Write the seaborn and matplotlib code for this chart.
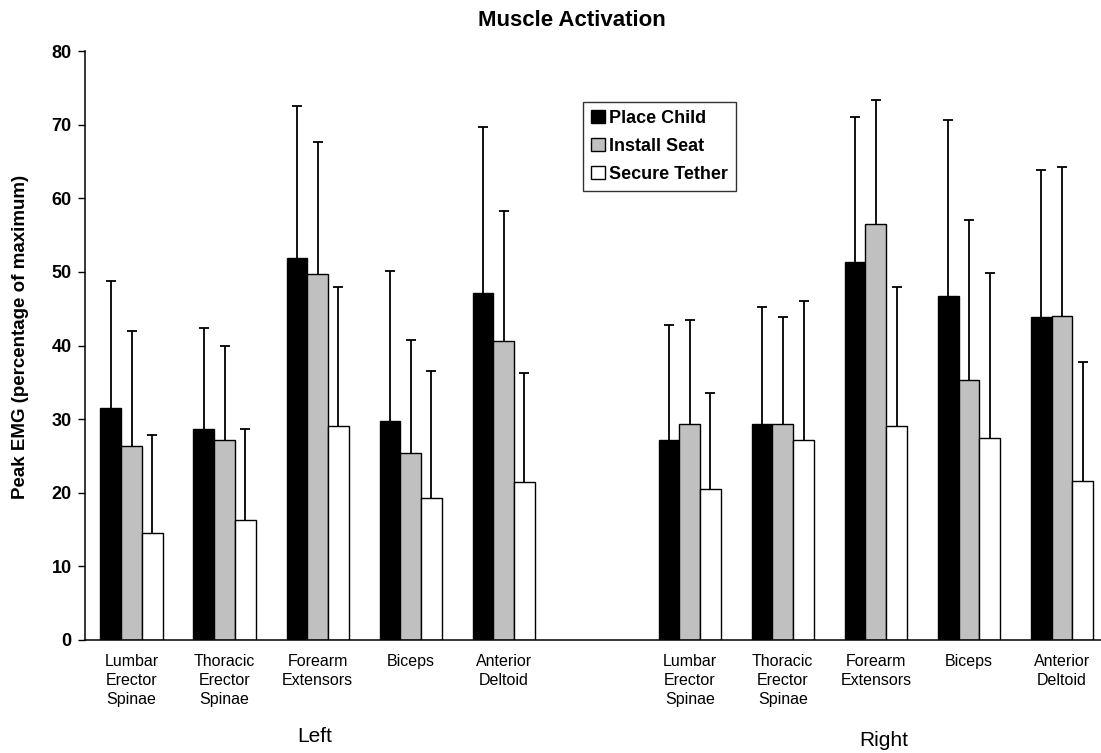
import numpy as np
import pandas as pd
import matplotlib
matplotlib.use("Agg")
import matplotlib.pyplot as plt
import seaborn as sns

# ---- data ----
muscles = ["Lumbar\nErector\nSpinae", "Thoracic\nErector\nSpinae", "Forearm\nExtensors",
           "Biceps", "Anterior\nDeltoid"]
sides = ["Left", "Right"]
tasks = ["Place Child", "Install Seat", "Secure Tether"]

# means (left side muscles, then right side muscles)
place_child_mean   = [31.5, 28.7, 51.9, 29.8, 47.1, 27.1, 29.4, 51.4, 46.7, 43.9]
install_seat_mean  = [26.4, 27.1, 49.7, 25.4, 40.6, 29.4, 29.3, 56.5, 35.3, 44.0]
secure_tether_mean = [14.5, 16.3, 29.0, 19.3, 21.5, 20.5, 27.1, 29.0, 27.5, 21.6]

# top of error bar (mean + SD)
place_child_top   = [48.8, 42.4, 72.5, 50.1, 69.7, 42.8, 45.2, 71.0, 70.6, 63.8]
install_seat_top  = [42.0, 40.0, 67.7, 40.7, 58.3, 43.5, 43.9, 73.3, 57.0, 64.3]
secure_tether_top = [27.9, 28.6, 47.9, 36.5, 36.2, 33.5, 46.1, 48.0, 49.9, 37.7]

yticks = [0, 10, 20, 30, 40, 50, 60, 70, 80]

# ---- build long table ----
keys = [f"{s}|{i}" for s in sides for i in range(len(muscles))]
order = keys[:5] + ["gap"] + keys[5:]
means = {"Place Child": place_child_mean, "Install Seat": install_seat_mean,
         "Secure Tether": secure_tether_mean}
tops = {"Place Child": place_child_top, "Install Seat": install_seat_top,
        "Secure Tether": secure_tether_top}
rows = []
for t in tasks:
    for k, m, tp in zip(keys, means[t], tops[t]):
        rows.append({"slot": k, "task": t, "value": m, "top": tp})
df = pd.DataFrame(rows)

sns.set_theme(style="white")
plt.rcParams["font.family"] = ["Liberation Sans", "DejaVu Sans"]
plt.rcParams["text.color"] = "black"
plt.rcParams["axes.labelcolor"] = "black"
plt.rcParams["xtick.color"] = "black"
plt.rcParams["ytick.color"] = "black"

W, H = 1101, 753
Y0, Y80 = 640, 51
fig = plt.figure(figsize=(W / 100, H / 100), dpi=100)
ax = fig.add_axes([85 / W, 1 - Y0 / H, 1 - 85 / W, (Y0 - Y80) / H])

palette = {"Place Child": "#000000", "Install Seat": "#c0c0c0", "Secure Tether": "#ffffff"}
sns.barplot(data=df, x="slot", y="value", hue="task", order=order, hue_order=tasks,
            palette=palette, width=0.668, errorbar=None, edgecolor="black",
            linewidth=1.0, saturation=1, ax=ax)

# upper-only error bars
for cont, t in zip(ax.containers, tasks):
    sub = df[df.task == t].set_index("slot")
    xs, ys, es = [], [], []
    for bar, k in zip(cont.patches, keys):
        xc = bar.get_x() + bar.get_width() / 2
        xs.append(xc)
        ys.append(sub.loc[k, "value"])
        es.append(sub.loc[k, "top"] - sub.loc[k, "value"])
    eb = ax.errorbar(xs, ys, yerr=[np.zeros(len(es)), es], fmt="none", ecolor="black",
                     elinewidth=1.3, capsize=3.8, capthick=1.3, zorder=1)
    caplines = eb[1]
    if len(caplines) == 2:
        caplines[0].set_visible(False)

ax.set_ylim(0, 80)
ax.set_yticks(yticks)
ax.set_yticklabels([str(v) for v in yticks], fontsize=13, fontweight="bold")
ax.set_xlim(-0.5, 10.42)
ax.set_xticks(range(len(order)))
xlabels = muscles + [""] + muscles
ax.set_xticklabels(xlabels, fontsize=11.5, linespacing=1.32)
ax.tick_params(axis="x", length=0, pad=10)
ax.tick_params(axis="y", length=5, width=1, direction="out", left=True, pad=4.5, color="black")
ax.set_xlabel("")
ax.set_ylabel("")

for s in ["top", "right"]:
    ax.spines[s].set_visible(False)
for s in ["left", "bottom"]:
    ax.spines[s].set_color("black")
    ax.spines[s].set_linewidth(1.1)

fig.text(20.5 / W, 1 - 337 / H, "Peak EMG (percentage of maximum)", rotation=90,
         ha="center", va="center", fontsize=13.5, fontweight="bold")
fig.text(572 / W, 1 - 26.5 / H, "Muscle Activation", ha="center", va="baseline",
         fontsize=16, fontweight="bold")
fig.text(314.5 / W, 1 - 742 / H, "Left", ha="center", va="baseline", fontsize=15)
fig.text(884 / W, 1 - 746 / H, "Right", ha="center", va="baseline", fontsize=15)

leg = ax.legend(loc="upper left",
                bbox_to_anchor=((583 - 85) / (W - 85), (Y0 - 102) / (Y0 - Y80)),
                borderaxespad=0, frameon=True, fancybox=False, edgecolor="black",
                prop={"weight": "bold", "size": 13}, handlelength=0.75, handleheight=0.75,
                handletextpad=0.25, labelspacing=0.6, borderpad=0.45, title=None)
leg.get_frame().set_linewidth(1.0)
for h in leg.legend_handles:
    h.set_edgecolor("black")
    h.set_linewidth(1.0)

fig.savefig("out.png", dpi=100)
